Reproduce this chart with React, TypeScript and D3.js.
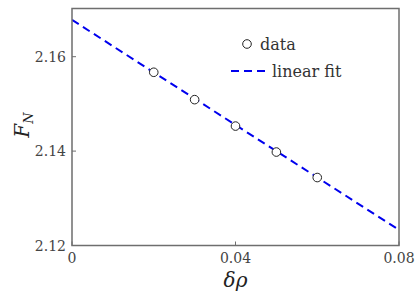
import React from "react";
import * as d3 from "d3";

const dataX = [0.02, 0.03, 0.04, 0.05, 0.06];
const dataY = [2.1567, 2.1509, 2.1453, 2.1398, 2.1344];
const fitX = [0, 0.08];
const fitY = [2.1678, 2.1233];
const xTicks = [0, 0.04, 0.08];
const xTickLabels = ["0", "0.04", "0.08"];
const yTicks = [2.12, 2.14, 2.16];
const yTickLabels = ["2.12", "2.14", "2.16"];
const legendLabels = ["data", "linear fit"];

export default function App() {
  const W = 417, H = 297;
  const L = 72, R = 399, T = 8.5, B = 245.5;
  const x = d3.scaleLinear().domain([0, 0.08]).range([L, R]);
  const y = d3.scaleLinear().domain([2.12, 2.16]).range([B, 56.7]);
  const line = d3.line<[number, number]>().x(d => x(d[0])).y(d => y(d[1]));
  const fitPts: [number, number][] = fitX.map((v, i) => [v, fitY[i]]);
  const font = "DejaVu Serif";
  const frame = "#6e6e6e";
  return (
    <svg width={W} height={H} style={{ position: "absolute", left: 0, top: 0 }}>
      <defs>
        <clipPath id="plot"><rect x={L} y={T} width={R - L} height={B - T} /></clipPath>
      </defs>
      <rect x={0} y={0} width={W} height={H} fill="white" />
      <path d={line(fitPts) || ""} stroke="#0000ee" strokeWidth={2} fill="none" strokeDasharray="8,5" clipPath="url(#plot)" />
      {dataX.map((v, i) => (
        <circle key={i} cx={x(v)} cy={y(dataY[i])} r={4.3} fill="white" stroke="#222" strokeWidth={1} />
      ))}
      <rect x={L} y={T} width={R - L} height={B - T} fill="none" stroke={frame} strokeWidth={1.5} />
      {yTicks.map((t, i) => (
        <g key={"y" + i}>
          <line x1={L} x2={L + 4} y1={y(t)} y2={y(t)} stroke={frame} strokeWidth={1} />
          <text x={L - 6} y={y(t) + 5} textAnchor="end" fontFamily={font} fontSize={14} fill="#444">{yTickLabels[i]}</text>
        </g>
      ))}
      {xTicks.map((t, i) => (
        <g key={"x" + i}>
          <line x1={x(t)} x2={x(t)} y1={B} y2={B - 4} stroke={frame} strokeWidth={1} />
          <text x={x(t)} y={B + 17} textAnchor="middle" fontFamily={font} fontSize={14} fill="#444">{xTickLabels[i]}</text>
        </g>
      ))}
      <text transform={`translate(29,${(T + B) / 2 - 2}) rotate(-90)`} textAnchor="middle" fontFamily={font} fontSize={20} fontStyle="italic" fill="#222">
        F<tspan fontSize={13} dy={4}>N</tspan>
      </text>
      <text x={(L + R) / 2} y={287} textAnchor="middle" fontFamily={font} fontSize={20} fontStyle="italic" fill="#222">δρ</text>
      <circle cx={247} cy={44} r={4.3} fill="white" stroke="#222" strokeWidth={1} />
      <text x={260} y={49.5} fontFamily={font} fontSize={16} fill="#333">{legendLabels[0]}</text>
      <line x1={231} x2={268} y1={71} y2={71} stroke="#0000ee" strokeWidth={2} strokeDasharray="8,5" />
      <text x={272} y={76.5} fontFamily={font} fontSize={16} fill="#333">{legendLabels[1]}</text>
    </svg>
  );
}
